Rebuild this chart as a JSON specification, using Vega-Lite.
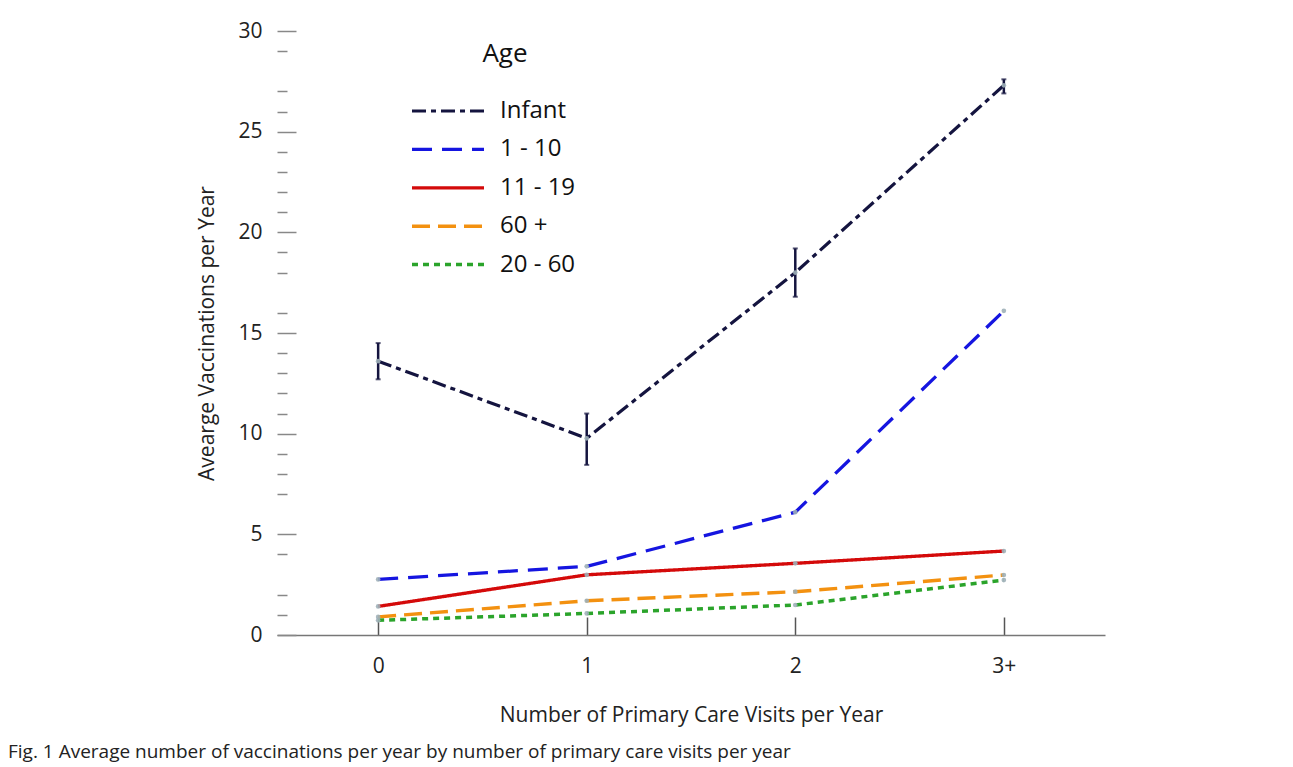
{
  "$schema": "https://vega.github.io/schema/vega-lite/v6.json",
  "width": 828,
  "height": 604,
  "autosize": "none",
  "padding": {"left": 277, "top": 31, "right": 188, "bottom": 132},
  "background": "white",
  "title": {
    "text": "Fig. 1 Average number of vaccinations per year by number of primary care visits per year",
    "orient": "bottom",
    "anchor": "start",
    "frame": "group",
    "dx": -269,
    "offset": 18,
    "font": "Liberation Sans Narrow, Open Sans",
    "fontSize": 19,
    "fontWeight": "normal",
    "color": "#222"
  },
  "config": {
    "view": {"stroke": null},
    "font": "Open Sans"
  },
  "data": {
    "values": [
      {"visits": "0", "age": "Infant", "value": 13.6, "lo": 12.7, "hi": 14.5},
      {"visits": "1", "age": "Infant", "value": 9.77, "lo": 8.45, "hi": 11.0},
      {"visits": "2", "age": "Infant", "value": 18.0, "lo": 16.8, "hi": 19.2},
      {"visits": "3+", "age": "Infant", "value": 27.3, "lo": 26.9, "hi": 27.6},
      {"visits": "0", "age": "1 - 10", "value": 2.76},
      {"visits": "1", "age": "1 - 10", "value": 3.41},
      {"visits": "2", "age": "1 - 10", "value": 6.1},
      {"visits": "3+", "age": "1 - 10", "value": 16.1},
      {"visits": "0", "age": "11 - 19", "value": 1.42},
      {"visits": "1", "age": "11 - 19", "value": 2.99},
      {"visits": "2", "age": "11 - 19", "value": 3.56},
      {"visits": "3+", "age": "11 - 19", "value": 4.17},
      {"visits": "0", "age": "60 +", "value": 0.9},
      {"visits": "1", "age": "60 +", "value": 1.7},
      {"visits": "2", "age": "60 +", "value": 2.15},
      {"visits": "3+", "age": "60 +", "value": 2.98},
      {"visits": "0", "age": "20 - 60", "value": 0.73},
      {"visits": "1", "age": "20 - 60", "value": 1.07},
      {"visits": "2", "age": "20 - 60", "value": 1.49},
      {"visits": "3+", "age": "20 - 60", "value": 2.73}
    ]
  },
  "encoding": {
    "x": {
      "field": "visits",
      "type": "ordinal",
      "sort": ["0", "1", "2", "3+"],
      "scale": {"type": "point", "padding": 0.485},
      "axis": {
        "title": "Number of Primary Care Visits per Year",
        "labelAngle": 0,
        "labelFontSize": 21,
        "labelColor": "#222",
        "labelPadding": 38,
        "tickSize": -18,
        "tickColor": "#555",
        "tickWidth": 1.5,
        "domainColor": "#777",
        "domainWidth": 1.5,
        "titleFontSize": 21,
        "titleFontWeight": "normal",
        "titleColor": "#222",
        "titlePadding": 28
      }
    },
    "y": {
      "field": "value",
      "type": "quantitative",
      "scale": {"domain": [0, 30], "nice": false},
      "axis": {
        "title": "Avearge Vaccinations per Year",
        "values": [0, 1, 2, 4, 5, 7, 8, 9, 10, 11, 12, 13, 14, 15, 16, 18, 19, 20, 21, 22, 23, 24, 25, 26, 27, 29, 30],
        "labelExpr": "datum.value % 5 === 0 ? datum.label : ''",
        "domain": false,
        "grid": false,
        "tickSize": {"condition": {"test": "datum.value % 5 === 0", "value": -19}, "value": -10},
        "tickColor": "#888",
        "tickWidth": 1.5,
        "labelFontSize": 21,
        "labelColor": "#222",
        "labelPadding": 34,
        "titleFontSize": 21,
        "titleFontWeight": "normal",
        "titleColor": "#222",
        "titlePadding": 20
      }
    }
  },
  "layer": [
    {
      "mark": {"type": "rule", "color": "#14143f", "strokeWidth": 2.5},
      "encoding": {
        "y": {"field": "lo", "type": "quantitative"},
        "y2": {"field": "hi"}
      }
    },
    {
      "mark": {"type": "tick", "color": "#14143f", "thickness": 2, "size": 5},
      "encoding": {
        "y": {"field": "lo", "type": "quantitative"}
      }
    },
    {
      "mark": {"type": "tick", "color": "#14143f", "thickness": 2, "size": 5},
      "encoding": {
        "y": {"field": "hi", "type": "quantitative"}
      }
    },
    {
      "mark": {"type": "line", "strokeCap": "butt"},
      "encoding": {
        "color": {
          "field": "age",
          "type": "nominal",
          "sort": ["Infant", "1 - 10", "11 - 19", "60 +", "20 - 60"],
          "scale": {
            "domain": ["Infant", "1 - 10", "11 - 19", "60 +", "20 - 60"],
            "range": ["#14143f", "#1515e0", "#d40a0a", "#f39110", "#2ba42b"]
          },
          "legend": {
            "orient": "none",
            "legendX": 157,
            "legendY": 10,
            "title": "Age",
            "titleFontSize": 26,
            "titleFontWeight": "normal",
            "titleColor": "#111",
            "titlePadding": 30,
            "titleAnchor": "middle",
            "labelFontSize": 24,
            "labelColor": "#111",
            "labelOffset": 38,
            "symbolType": "M-3,0H3",
            "symbolSize": 576,
            "symbolStrokeWidth": 4,
            "rowPadding": 12.4
          }
        },
        "strokeDash": {
          "field": "age",
          "type": "nominal",
          "sort": ["Infant", "1 - 10", "11 - 19", "60 +", "20 - 60"],
          "scale": {
            "domain": ["Infant", "1 - 10", "11 - 19", "60 +", "20 - 60"],
            "range": [[14, 5, 5, 5], [20, 10], [1, 0], [18, 8], [6, 5]]
          },
          "legend": {
            "orient": "none",
            "legendX": 157,
            "legendY": 10,
            "title": "Age",
            "titleFontSize": 26,
            "titleFontWeight": "normal",
            "titleColor": "#111",
            "titlePadding": 30,
            "titleAnchor": "middle",
            "labelFontSize": 24,
            "labelColor": "#111",
            "labelOffset": 38,
            "symbolType": "M-3,0H3",
            "symbolSize": 576,
            "symbolStrokeWidth": 4,
            "rowPadding": 12.4
          }
        },
        "strokeWidth": {
          "field": "age",
          "type": "nominal",
          "scale": {
            "domain": ["Infant", "1 - 10", "11 - 19", "60 +", "20 - 60"],
            "range": [3.2, 3.5, 3.5, 5, 3.5]
          },
          "legend": null
        }
      }
    },
    {
      "mark": {"type": "point", "filled": true, "color": "#9fb0b8", "size": 22, "opacity": 0.9}
    }
  ]
}
